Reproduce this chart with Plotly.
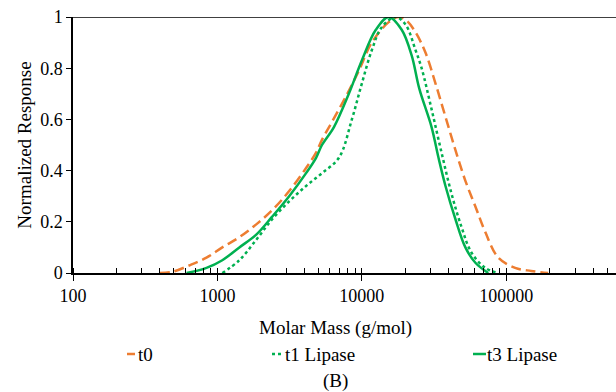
import plotly.graph_objects as go

# Molar mass (g/mol) and normalized response
t0_m = [398, 490, 641, 840, 1081, 1419, 1858, 2393, 3140, 4111, 4820, 5296, 6209, 7762,
        9528, 11720, 15350, 17990, 20500, 23560, 27620, 32380, 37950, 44500, 52130, 61130,
        71590, 88100, 115300, 148700, 195000]
t0_y = [0.0, 0.005, 0.03, 0.06, 0.10, 0.14, 0.19, 0.245, 0.32, 0.41, 0.47, 0.52, 0.59, 0.69,
        0.79, 0.90, 0.98, 1.0, 0.985, 0.94, 0.86, 0.74, 0.61, 0.48, 0.36, 0.26,
        0.16, 0.06, 0.02, 0.008, 0.0]

t1_m = [1081, 1419, 1858, 2393, 3140, 4111, 5296, 6939, 8531, 10000, 11720, 13740, 17140,
        20100, 23560, 25950, 30400, 35650, 41780, 48980, 57380, 71590, 88100]
t1_y = [0.0, 0.05, 0.13, 0.21, 0.28, 0.34, 0.39, 0.45, 0.60, 0.74, 0.87, 0.96, 1.0,
        0.97, 0.87, 0.80, 0.64, 0.47, 0.31, 0.18, 0.08, 0.02, 0.0]

t3_m = [611, 840, 1081, 1419, 1858, 2393, 3140, 4111, 4820, 5296, 6410, 8128, 10000,
        12500, 15350, 18880, 22130, 25000, 30400, 33960, 37950, 44500, 52130, 61130, 75100]
t3_y = [0.0, 0.02, 0.05, 0.10, 0.15, 0.22, 0.30, 0.39, 0.45, 0.50, 0.57, 0.70, 0.83,
        0.95, 1.0, 0.95, 0.85, 0.72, 0.57, 0.45, 0.34, 0.21, 0.10, 0.04, 0.0]

series_names = ["t0", "t1 Lipase", "t3 Lipase"]
x_ticks = [100, 1000, 10000, 100000]
y_ticks = [0, 0.2, 0.4, 0.6, 0.8, 1]

ORANGE = "#ED7D31"
GREEN = "#00B050"
FONT = "'Liberation Serif', 'DejaVu Serif', serif"

fig = go.Figure()
fig.add_trace(go.Scatter(x=t0_m, y=t0_y, mode="lines", name=series_names[0],
                         line=dict(color=ORANGE, width=2.5, dash="10px,5px", shape="spline", smoothing=1)))
fig.add_trace(go.Scatter(x=t1_m, y=t1_y, mode="lines", name=series_names[1],
                         line=dict(color=GREEN, width=2.5, dash="dot", shape="spline", smoothing=1)))
fig.add_trace(go.Scatter(x=t3_m, y=t3_y, mode="lines", name=series_names[2],
                         line=dict(color=GREEN, width=2.5, shape="spline", smoothing=1)))

L, T, B = 73, 17, 119
W, H = 616, 392
pw, ph = W - L, H - T - B

def px_x(px):
    return (px - L) / pw

def px_y(py):
    return (H - B - py) / ph

fig.update_layout(
    width=W, height=H,
    margin=dict(l=L, r=0, t=T, b=B),
    paper_bgcolor="white", plot_bgcolor="white",
    font=dict(family=FONT, size=18, color="black"),
    showlegend=False,
    xaxis=dict(type="log", range=[2, 5.76], tickvals=x_ticks,
               ticktext=[str(v) for v in x_ticks],
               ticks="outside", ticklen=6, tickwidth=1.3, tickcolor="black",
               showline=True, linecolor="black", linewidth=1.5,
               showgrid=False, zeroline=False,
               minor=dict(ticks="inside", ticklen=5, tickwidth=1.3, tickcolor="black",
                          dtick="D1", showgrid=False),
               tickfont=dict(size=18, family=FONT)),
    xaxis2=dict(type="log", range=[2, 5.76], overlaying="x", anchor="y",
                tickvals=x_ticks, showticklabels=False,
                ticks="inside", ticklen=5, tickwidth=1.3, tickcolor="black",
                showline=False, showgrid=False, zeroline=False),
    yaxis=dict(range=[0, 1], tickvals=y_ticks, ticktext=["0", "0.2", "0.4", "0.6", "0.8", "1"],
               ticks="outside", ticklen=5, tickwidth=1.3, tickcolor="black",
               showline=True, linecolor="black", linewidth=1.5,
               showgrid=False, zeroline=False,
               title=dict(text="Normalized Response", standoff=4, font=dict(size=19, family=FONT)),
               tickfont=dict(size=18, family=FONT)),
)

# invisible trace on overlay axis so its ticks render
fig.add_trace(go.Scatter(x=[100], y=[0], xaxis="x2", mode="markers",
                         marker=dict(opacity=0), hoverinfo="skip", showlegend=False))

# top border line at y = 1
fig.add_shape(type="line", xref="paper", yref="y", x0=0, x1=1, y0=1, y1=1,
              line=dict(color="black", width=1.5))

# axis title and caption
fig.add_annotation(text="Molar Mass (g/mol)", xref="paper", yref="paper",
                   x=px_x(335), y=px_y(328), xanchor="center", yanchor="middle",
                   showarrow=False, font=dict(size=19, family=FONT))
fig.add_annotation(text="(B)", xref="paper", yref="paper",
                   x=px_x(335), y=px_y(381), xanchor="center", yanchor="middle",
                   showarrow=False, font=dict(size=19, family=FONT))

# custom legend
leg_y = px_y(354)
legend_items = [
    (series_names[0], ORANGE, "solid", 127, 135, 136),
    (series_names[1], GREEN, "dot", 272, 284, 283),
    (series_names[2], GREEN, "solid", 473, 486, 485),
]
for name, col, dash, x0, x1, tx in legend_items:
    fig.add_shape(type="line", xref="paper", yref="paper",
                  x0=px_x(x0), x1=px_x(x1), y0=leg_y, y1=leg_y,
                  line=dict(color=col, width=2.5, dash=dash))
    fig.add_annotation(text=name, xref="paper", yref="paper", x=px_x(tx), y=leg_y,
                       xanchor="left", yanchor="middle", showarrow=False,
                       font=dict(size=19, family=FONT))

fig.write_html("out.html")
